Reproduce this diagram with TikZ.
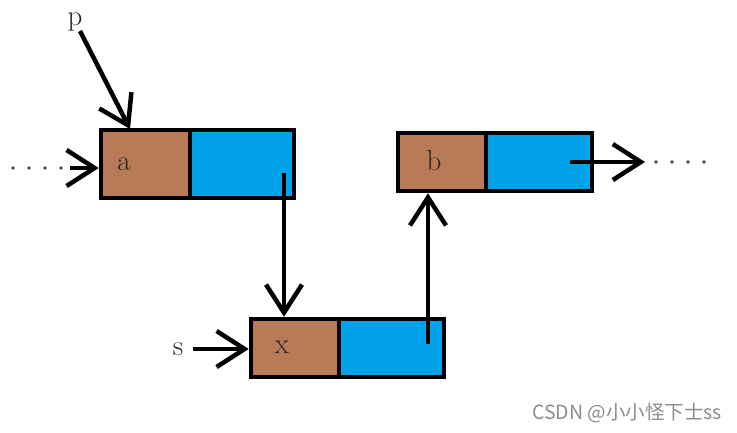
\documentclass[tikz,border=0pt]{standalone}
\usepackage{fontspec}
\newfontfamily\cjk{Noto Sans CJK SC}
\usetikzlibrary{arrows.meta,calc}
\definecolor{cellbrown}{HTML}{B97A57}
\definecolor{cellblue}{HTML}{00A2E8}
\tikzset{
  cell/.style={draw=black, line width=4.5pt, inner sep=0pt, minimum height=58pt},
  datacell/.style={cell, fill=cellbrown},
  nextcell/.style={cell, fill=cellblue},
  lbl/.style={inner sep=0pt, text=black!85, font=\fontsize{29pt}{29pt}\selectfont},
  ptr/.style={line width=4.5pt, -{Straight Barb[length=28pt, width=36pt, line width=4.5pt]}},
  dot/.style={circle, fill=black!75, inner sep=0pt, minimum size=3.6pt}
}
\begin{document}
\begin{tikzpicture}[x=1pt, y=-1pt]
\useasboundingbox (0,0) rectangle (737,432);
% node a
\node[datacell, minimum width=89pt, minimum height=68pt] (a1) at (145.5,164) {};
\node[nextcell, minimum width=104pt, minimum height=68pt] (a2) at (242,164) {};
\node[lbl] (la) at (124,164) {a};
% node b
\node[datacell, minimum width=88pt] (b1) at (442,162) {};
\node[nextcell, minimum width=106pt] (b2) at (539,162) {};
\node[lbl] (lb) at (434,161) {b};
% node x
\node[datacell, minimum width=88pt] (x1) at (295,348) {};
\node[nextcell, minimum width=105pt] (x2) at (391.5,348) {};
\node[lbl] (lx) at (282,347) {x};
% labels p and s
\node[lbl] (lp) at (75,22) {p};
\node[lbl] (ls) at (178,349) {s};
% dots
\foreach \i/\xx in {1/13,2/29,3/45,4/61} \node[dot] (ld\i) at (\xx,168) {};
\foreach \i/\xx in {1/656,2/672,3/688,4/704} \node[dot] (rd\i) at (\xx,162) {};
% coordinates
\coordinate (pstart) at (80,31);
\coordinate (ptip) at (130,129);
\coordinate (instart) at (70,168);
\coordinate (anext) at (284,173);
\coordinate (xnext) at (428,344);
\coordinate (bnext) at (570,162);
\coordinate (outend) at (645,162);
\coordinate (sstart) at (193,349);
% connectors
\draw[ptr] (pstart) -- (ptip);
\draw[ptr] (instart) -- (instart -| a1.west);
\draw[ptr] (anext) -- (anext |- x1.north);
\draw[ptr] (xnext) -- (xnext |- b1.south);
\draw[ptr] (bnext) -- (outend);
\draw[ptr] (sstart) -- (sstart -| x1.west);
% watermark
\node[anchor=east, inner sep=0pt, text=black!45, font=\cjk\fontsize{19.5pt}{19.5pt}\selectfont] (wm) at (722,413) {CSDN @小小怪下士ss};
\end{tikzpicture}
\end{document}
